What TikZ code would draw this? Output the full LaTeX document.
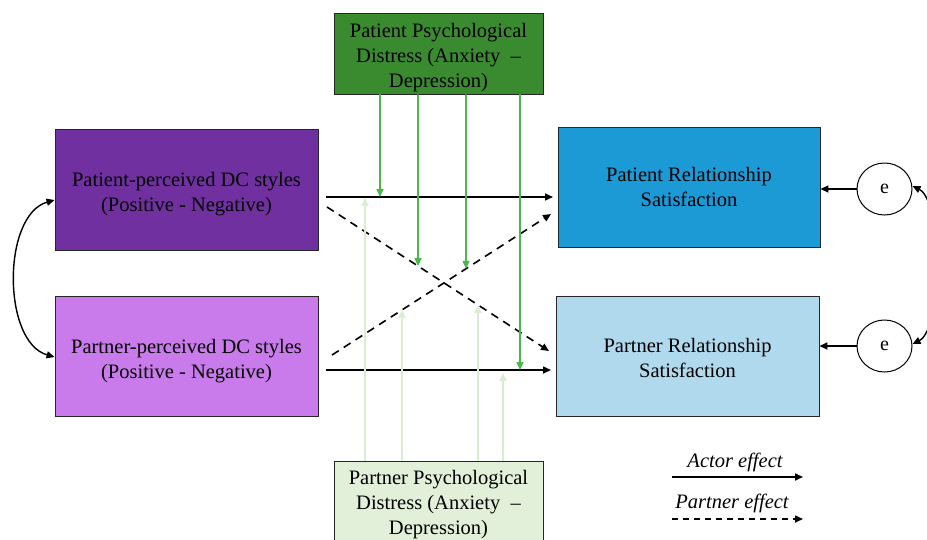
\documentclass[tikz,border=0pt]{standalone}
\usepackage{fontspec}
\setmainfont{Liberation Serif}
\usetikzlibrary{arrows.meta,shapes.geometric}
\definecolor{dpurple}{HTML}{7030A0}
\definecolor{lpurple}{HTML}{C97BEB}
\definecolor{dblue}{HTML}{1C9AD6}
\definecolor{lblue}{HTML}{B0D9EE}
\definecolor{dgreen}{HTML}{3A8A30}
\definecolor{lgreen}{HTML}{E2F0D9}
\definecolor{garrow}{HTML}{49B749}
\definecolor{lgarrow}{HTML}{D9EED0}
\begin{document}
\begin{tikzpicture}[x=1pt,y=-1pt,
  box/.style={draw=black!85,line width=0.9pt,inner sep=0pt},
  boxtext/.style={align=center,inner sep=0pt,font=\fontsize{20.5}{25}\selectfont,text=black},
  err/.style={draw=black,line width=1pt,fill=white,ellipse,minimum width=55,minimum height=52,inner sep=0pt,
    font=\fontsize{20}{24}\selectfont},
  tip/.style={-{Triangle[length=8pt,width=7pt]}},
  actor/.style={tip,line width=1.6pt,black},
  partner/.style={tip,line width=1.6pt,black,dash pattern=on 8pt off 6pt},
  modg/.style={-{Triangle[length=8pt,width=7pt]},line width=1.6pt,garrow},
  modl/.style={-{Triangle[length=8pt,width=7pt]},line width=1.6pt,lgarrow},
  lbl/.style={font=\fontsize{20.5}{24}\selectfont\itshape}
]
\useasboundingbox (0,0) rectangle (927,539);
% boxes
\node[box,fill=dpurple,minimum width=263,minimum height=121] (pat) at (186.5,189.5) {};
\node[boxtext,yshift=-5] (pat-t) at (pat.center) {Patient-perceived DC styles\\(Positive - Negative)};
\node[box,fill=lpurple,minimum width=263,minimum height=120] (par) at (186.5,356) {};
\node[boxtext,yshift=-5] (par-t) at (par.center) {Partner-perceived DC styles\\(Positive - Negative)};
\node[box,fill=dblue,minimum width=262,minimum height=120] (rpat) at (689,187) {};
\node[boxtext] (rpat-t) at (rpat.center) {Patient Relationship\\Satisfaction};
\node[box,fill=lblue,minimum width=263,minimum height=120] (rpar) at (687.5,356) {};
\node[boxtext,yshift=-1.5] (rpar-t) at (rpar.center) {Partner Relationship\\Satisfaction};
\node[box,fill=dgreen,minimum width=209,minimum height=81] (tg) at (438.5,53.5) {};
\node[boxtext,yshift=-4] (tg-t) at (tg.center) {Patient Psychological\\Distress (Anxiety \ --\\Depression)};
\node[box,fill=lgreen,minimum width=209,minimum height=84] (bg) at (438.5,503) {};
\node[boxtext,yshift=-1.5] (bg-t) at (bg.center) {Partner Psychological\\Distress (Anxiety \ --\\Depression)};
% error terms
\node[err] (e1) at (884.5,189) {e};
\node[err] (e2) at (884.5,346) {e};
% path endpoints
\coordinate (a1s) at (326,197);
\coordinate (a1e) at (553,197);
\coordinate (a2s) at (326,370);
\coordinate (a2e) at (551,370);
\coordinate (d1s) at (327,207);
\coordinate (d1e) at (549,351);
\coordinate (d2s) at (332,355);
\coordinate (d2e) at (551,214);
% main paths
\draw[actor] (a1s) -- (a1e);
\draw[actor] (a2s) -- (a2e);
\draw[partner] (d1s) -- (d1e);
\draw[partner] (d2s) -- (d2e);
% patient distress moderations
\draw[modg] (tg.south -| 380,0) -- (380,0 |- a1s);
\draw[modg] (tg.south -| 418,0) -- (intersection of d1s--d1e and 418,0--418,500);
\draw[modg] (tg.south -| 466,0) -- (intersection of d2s--d2e and 466,0--466,500);
\draw[modg] (tg.south -| 520,0) -- (520,0 |- a2s);
% partner distress moderations
\draw[modl] (bg.north -| 365,0) -- ([yshift=-1]365,0 |- a1s);
\draw[modl] (bg.north -| 402,0) -- (intersection of d2s--d2e and 402,0--402,500);
\draw[modl] (bg.north -| 478,0) -- (intersection of d1s--d1e and 478,0--478,500);
\draw[modl] (bg.north -| 503,0) -- ([yshift=-3]503,0 |- a2s);
% error arrows
\draw[tip,line width=1.6pt] (e1.west) -- (e1.west -| rpat.east);
\draw[tip,line width=1.6pt] (e2.west) -- (e2.west -| rpar.east);
\draw[{Triangle[length=8pt,width=7pt]}-{Triangle[length=8pt,width=7pt]},line width=1.4pt]
  ([yshift=3]e1.east) .. controls +(30,15) and +(30,-15) .. ([yshift=2]e2.east);
% covariance between predictors
\draw[{Triangle[length=8pt,width=7pt]}-{Triangle[length=8pt,width=7pt]},line width=1.4pt]
  ([yshift=-10.5]pat.west) .. controls (2,215) and (2,342) .. ([yshift=-1]par.west);
% legend
\node[lbl] (la) at (735,462) {Actor effect};
\coordinate (las) at (672,477);
\coordinate (lae) at (803,477);
\draw[actor] (las) -- (lae);
\node[lbl] (lp) at (732,503) {Partner effect};
\coordinate (lps) at (672,519);
\coordinate (lpe) at (803,519);
\draw[partner,dash pattern=on 6pt off 5pt] (lps) -- (lpe);
\end{tikzpicture}
\end{document}
